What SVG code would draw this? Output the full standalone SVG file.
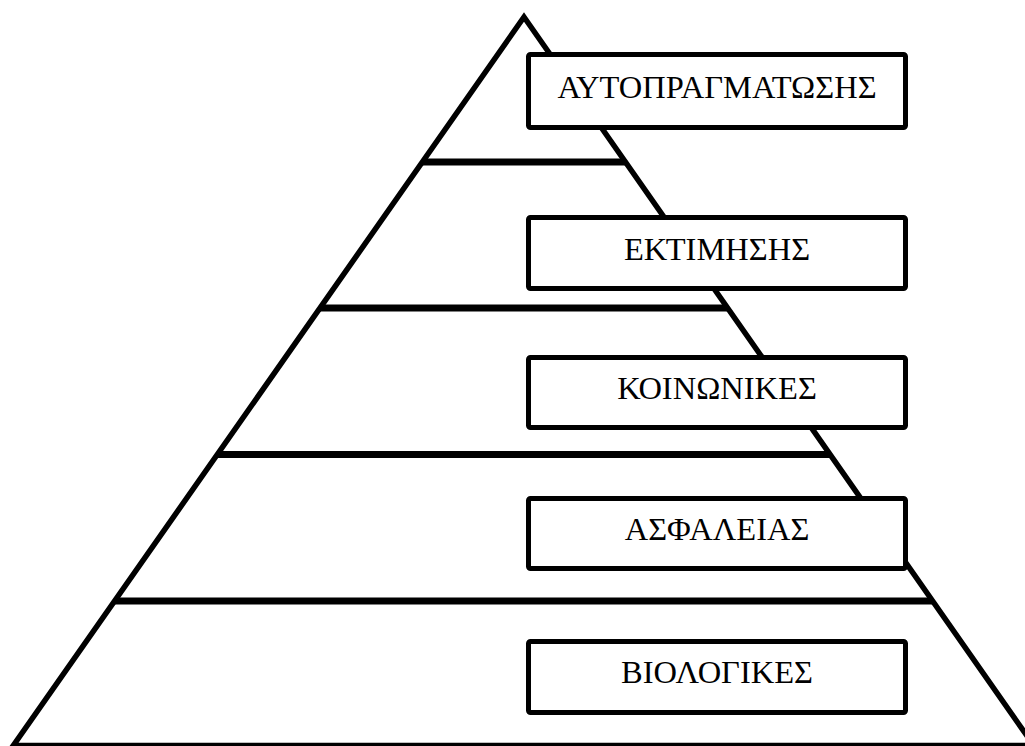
<svg xmlns="http://www.w3.org/2000/svg" width="1025" height="746" viewBox="0 0 1025 746">
<style>
.tri{fill:none;stroke:#000;stroke-width:5.5;stroke-linejoin:miter}
.band{stroke:#000;stroke-width:7;stroke-linecap:butt}
.box{fill:#fff;stroke:#000;stroke-width:5}
.lbl{font-family:"Liberation Serif","Times New Roman",serif;font-size:32.5px;fill:#000;text-anchor:middle}
</style>
<rect width="1025" height="746" fill="#fff"/>
<g id="connectors">
<polygon class="tri" points="524,17 1033.7,745.5 13.3,745.5"/>
<line class="band" x1="422.4" y1="162" x2="625.4" y2="162"/>
<line class="band" x1="320" y1="308" x2="727.6" y2="308"/>
<line class="band" x1="217.3" y1="454.5" x2="830.1" y2="454.5"/>
<line class="band" x1="114.6" y1="601" x2="932.6" y2="601"/>
</g>
<g id="node-autopragmatosis">
<rect class="box" x="528.5" y="54.5" width="377" height="73" rx="2"/>
<text class="lbl" x="717" y="98">ΑΥΤΟΠΡΑΓΜΑΤΩΣΗΣ</text>
</g>
<g id="node-ektimisis">
<rect class="box" x="528.5" y="217.5" width="377" height="71" rx="2"/>
<text class="lbl" x="717" y="260">ΕΚΤΙΜΗΣΗΣ</text>
</g>
<g id="node-koinonikes">
<rect class="box" x="528.5" y="357.5" width="377" height="70" rx="2"/>
<text class="lbl" x="717" y="399">ΚΟΙΝΩΝΙΚΕΣ</text>
</g>
<g id="node-asfaleias">
<rect class="box" x="528.5" y="498.5" width="377" height="70" rx="2"/>
<text class="lbl" x="717" y="540">ΑΣΦΑΛΕΙΑΣ</text>
</g>
<g id="node-biologikes">
<rect class="box" x="528.5" y="641.5" width="377" height="71" rx="2"/>
<text class="lbl" x="717" y="683">ΒΙΟΛΟΓΙΚΕΣ</text>
</g>
</svg>
